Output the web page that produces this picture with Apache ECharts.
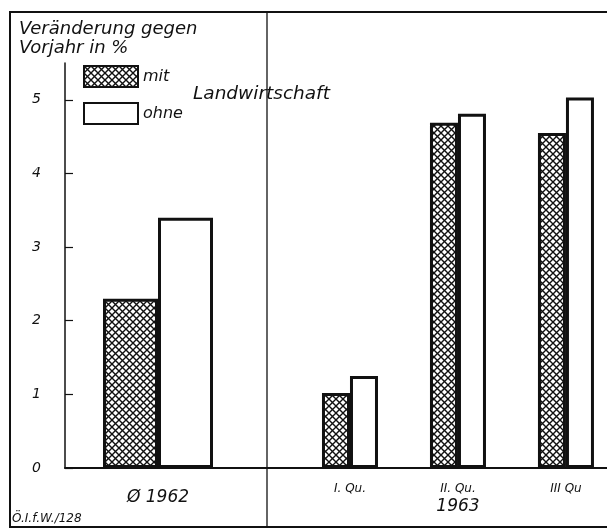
<!DOCTYPE html>
<html>
<head>
<meta charset="utf-8">
<script src="https://cdn.jsdelivr.net/npm/echarts@6/dist/echarts.min.js"></script>
<style>
  html, body { margin: 0; padding: 0; background: #fff; }
  #chart { width: 607px; height: 531px; }
</style>
</head>
<body>
<div id="chart"></div>
<script>
  // Daten (Veränderung gegen Vorjahr in %)
  const cat62 = ['Ø 1962'];
  const mit62 = [2.3];
  const ohne62 = [3.4];
  const quarters = ['I. Qu.', 'II. Qu.', 'III Qu'];
  const mitQ = [1.02, 4.69, 4.55];
  const ohneQ = [1.25, 4.81, 5.03];
  const yTicks = [0, 1, 2, 3, 4, 5];
  const year63 = '1963';

  const FONT = 'DejaVu Sans';
  const INK = '#111';

  // Kreuzschraffur als Füllmuster
  function crossHatch() {
    const c = document.createElement('canvas');
    c.width = 7;
    c.height = 7;
    const g = c.getContext('2d');
    g.fillStyle = '#fff';
    g.fillRect(0, 0, 7, 7);
    g.strokeStyle = INK;
    g.lineWidth = 1.4;
    g.beginPath();
    g.moveTo(0, 0); g.lineTo(7, 7);
    g.moveTo(7, 0); g.lineTo(0, 7);
    g.stroke();
    return c;
  }
  const hatch = { image: crossHatch(), repeat: 'repeat' };

  const mitStyle = { color: hatch, borderColor: INK, borderWidth: 3 };
  const ohneStyle = { color: '#fff', borderColor: INK, borderWidth: 3 };

  const chart = echarts.init(document.getElementById('chart'));

  const yBase = {
    type: 'value',
    min: 0,
    max: 5.5,
    splitLine: { show: false },
  };

  const option = {
    backgroundColor: '#fff',
    animation: false,
    textStyle: { fontFamily: FONT, fontStyle: 'italic', color: INK },
    legend: {
      orient: 'vertical',
      left: 78,
      top: 60,
      icon: 'rect',
      itemWidth: 54,
      itemHeight: 21,
      itemGap: 14,
      data: ['mit', 'ohne'],
      selectedMode: false,
      textStyle: { fontFamily: FONT, fontStyle: 'italic', fontSize: 16, color: INK },
    },
    grid: [
      { left: 65, right: 356, top: 63, bottom: 63 },
      { left: 242, right: 0, top: 63, bottom: 63 },
    ],
    xAxis: [
      {
        type: 'category',
        gridIndex: 0,
        data: cat62,
        axisLine: { lineStyle: { color: INK, width: 2 } },
        axisTick: { show: false },
        axisLabel: { margin: 21, fontSize: 17, fontFamily: FONT, fontStyle: 'italic', color: INK },
      },
      {
        type: 'value',
        gridIndex: 1,
        min: 0,
        max: 3.38,
        splitLine: { show: false },
        axisLine: { onZero: false, lineStyle: { color: INK, width: 2 } },
        axisTick: { show: false },
        axisLabel: {
          customValues: [1, 2, 3],
          margin: 13,
          fontSize: 12,
          fontFamily: FONT,
          fontStyle: 'italic',
          color: INK,
          lineHeight: 16,
          formatter: (v) => {
            const i = Math.round(v) - 1;
            return i === 1 ? quarters[i] + '\n{y|' + year63 + '}' : quarters[i];
          },
          rich: {
            y: { fontSize: 17, fontFamily: FONT, fontStyle: 'italic', color: INK, lineHeight: 20 },
          },
        },
      },
    ],
    yAxis: [
      Object.assign({}, yBase, {
        gridIndex: 0,
        axisLine: { show: true, lineStyle: { color: INK, width: 1.5 } },
        axisTick: { show: true, inside: true, length: 8, customValues: yTicks, lineStyle: { color: INK, width: 1.2 } },
        axisLabel: {
          customValues: yTicks,
          margin: 24,
          fontSize: 14,
          fontFamily: FONT,
          fontStyle: 'italic',
          color: INK,
        },
      }),
      Object.assign({}, yBase, {
        gridIndex: 1,
        show: false,
      }),
    ],
    series: [
      {
        name: 'mit', type: 'bar', xAxisIndex: 0, yAxisIndex: 0,
        barWidth: 55, barGap: '0%', itemStyle: mitStyle, data: mit62,
      },
      {
        name: 'ohne', type: 'bar', xAxisIndex: 0, yAxisIndex: 0,
        barWidth: 55, barGap: '0%', itemStyle: ohneStyle, data: ohne62,
      },
      {
        name: 'mit', type: 'bar', xAxisIndex: 1, yAxisIndex: 1,
        barWidth: 28, barGap: '0%', itemStyle: mitStyle,
        data: mitQ.map((v, i) => [i + 1, v]),
      },
      {
        name: 'ohne', type: 'bar', xAxisIndex: 1, yAxisIndex: 1,
        barWidth: 28, barGap: '0%', itemStyle: ohneStyle,
        data: ohneQ.map((v, i) => [i + 1, v]),
      },
    ],
    graphic: [
      // Rahmen
      { type: 'rect', shape: { x: 10, y: 12, width: 620, height: 515 },
        style: { fill: 'none', stroke: INK, lineWidth: 2 }, silent: true },
      // Trennlinie 1962 / 1963
      { type: 'line', shape: { x1: 267, y1: 12, x2: 267, y2: 527 },
        style: { stroke: INK, lineWidth: 1.3 }, silent: true },
      { type: 'text', left: 19, top: 20,
        style: { text: 'Veränderung gegen\nVorjahr in %', font: 'italic 18px "DejaVu Sans"', fill: INK, lineHeight: 19 } },
      { type: 'text', left: 193, top: 85,
        style: { text: 'Landwirtschaft', font: 'italic 18.5px "DejaVu Sans"', fill: INK } },
      { type: 'text', left: 12, top: 513,
        style: { text: 'Ö.I.f.W./128', font: 'italic 12px "DejaVu Sans"', fill: INK } },
    ],
  };

  chart.setOption(option);
</script>
</body>
</html>
